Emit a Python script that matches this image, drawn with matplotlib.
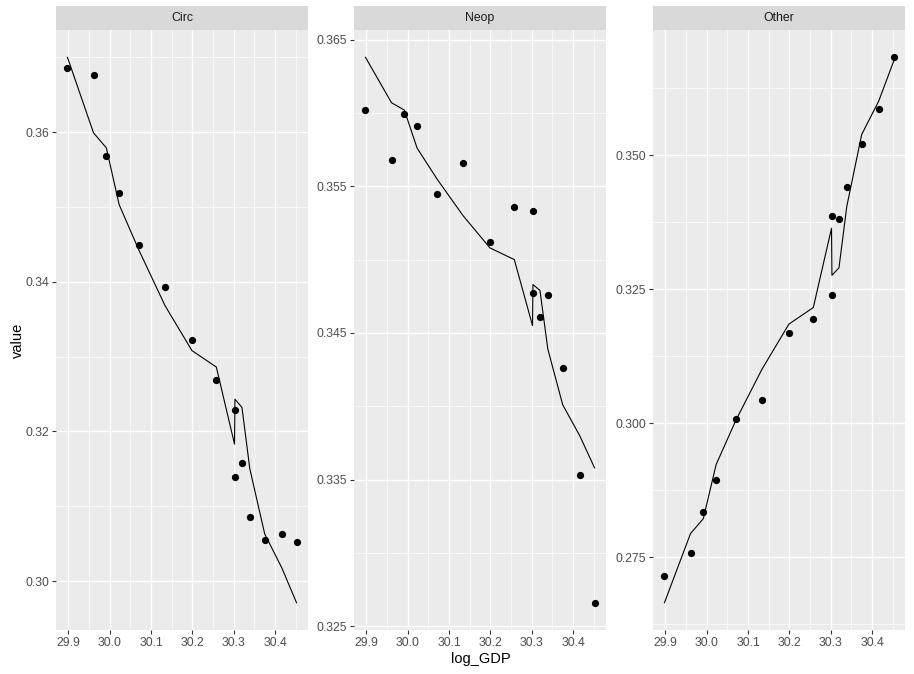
import matplotlib
matplotlib.use("Agg")
import matplotlib.pyplot as plt
from matplotlib.ticker import MultipleLocator, FormatStrFormatter

plt.rcParams['font.family'] = ['Liberation Sans', 'DejaVu Sans']

# data (same x for every panel, in data order)
log_gdp = [29.898, 29.961, 29.992, 30.023, 30.071, 30.134, 30.199, 30.258,
           30.302, 30.303, 30.320, 30.339, 30.375, 30.416, 30.452]

panels = ["Circ", "Neop", "Other"]

circ_pts = [0.3686, 0.3676, 0.3568, 0.3518, 0.3449, 0.3393, 0.3322, 0.3269,
            0.3139, 0.3229, 0.3158, 0.3085, 0.3055, 0.3063, 0.3052]
circ_fit = [0.3700, 0.3599, 0.3579, 0.3503, 0.3442, 0.3368, 0.3308, 0.3286,
            0.3183, 0.3243, 0.3232, 0.3150, 0.3063, 0.3018, 0.2971]

neop_pts = [0.3602, 0.3568, 0.3599, 0.3591, 0.3545, 0.3566, 0.3512, 0.3536,
            0.3477, 0.3533, 0.3461, 0.3476, 0.3426, 0.3353, 0.3266]
neop_fit = [0.3638, 0.3607, 0.3602, 0.3576, 0.3555, 0.3530, 0.3508, 0.3500,
            0.3455, 0.3483, 0.3479, 0.3439, 0.3401, 0.3380, 0.3358]

other_pts = [0.2714, 0.2758, 0.2834, 0.2894, 0.3008, 0.3044, 0.3169, 0.3195,
             0.3386, 0.3240, 0.3382, 0.3440, 0.3521, 0.3587, 0.3683]
other_fit = [0.2665, 0.2794, 0.2822, 0.2923, 0.3006, 0.3101, 0.3185, 0.3216,
             0.3364, 0.3276, 0.3290, 0.3405, 0.3539, 0.3601, 0.3675]

# y breaks per facet (free scales)
circ_ticks = [0.30, 0.32, 0.34, 0.36]
neop_ticks = [0.325, 0.335, 0.345, 0.355, 0.365]
other_ticks = [0.275, 0.300, 0.325, 0.350]

points = [circ_pts, neop_pts, other_pts]
fits = [circ_fit, neop_fit, other_fit]
y_ticks = [circ_ticks, neop_ticks, other_ticks]
y_fmts = ['%.2f', '%.3f', '%.3f']

W, H = 914, 674
fig = plt.figure(figsize=(W / 100, H / 100), dpi=100)

lefts = [56, 354, 653]
pw = 252
top, bottom = 30, 630
strip_top = 6

for i, name in enumerate(panels):
    ax = fig.add_axes([lefts[i] / W, 1 - bottom / H, pw / W, (bottom - top) / H])
    ax.set_facecolor('#EBEBEB')
    ax.plot(log_gdp, fits[i], color='black', lw=0.8, zorder=3)
    ax.plot(log_gdp, points[i], 'o', color='black', ms=4.2, zorder=4)
    ax.autoscale_view()
    ylo, yhi = ax.get_ylim()

    ticks = y_ticks[i]
    step = ticks[1] - ticks[0]
    minors = [t - step / 2 for t in ticks] + [ticks[-1] + step / 2]
    ax.set_yticks(ticks)
    ax.set_yticks(minors, minor=True)
    ax.set_ylim(ylo, yhi)

    ax.xaxis.set_major_locator(MultipleLocator(0.1))
    ax.xaxis.set_minor_locator(MultipleLocator(0.05))
    ax.xaxis.set_major_formatter(FormatStrFormatter('%.1f'))
    ax.yaxis.set_major_formatter(FormatStrFormatter(y_fmts[i]))

    ax.grid(which='major', color='white', lw=1.0)
    ax.grid(which='minor', color='white', lw=0.5)
    ax.set_axisbelow(True)
    for s in ax.spines.values():
        s.set_visible(False)
    ax.tick_params(which='major', length=3, width=0.8, color='#333333',
                   labelsize=8.8, labelcolor='#4D4D4D', pad=2)
    ax.tick_params(which='minor', length=0)

    # facet strip
    sax = fig.add_axes([lefts[i] / W, 1 - top / H, pw / W, (top - strip_top) / H])
    sax.set_facecolor('#D9D9D9')
    sax.set_xticks([])
    sax.set_yticks([])
    for s in sax.spines.values():
        s.set_visible(False)
    sax.text(0.5, 0.5, name, ha='center', va='center', fontsize=8.8,
             color='#1A1A1A', transform=sax.transAxes)

fig.text(18 / W, 1 - 340 / H, 'value', rotation=90, ha='center', va='center',
         fontsize=10.5, color='black')
fig.text(481 / W, 1 - 659 / H, 'log_GDP', ha='center', va='center',
         fontsize=10.5, color='black')

fig.savefig('out.png', dpi=100)
